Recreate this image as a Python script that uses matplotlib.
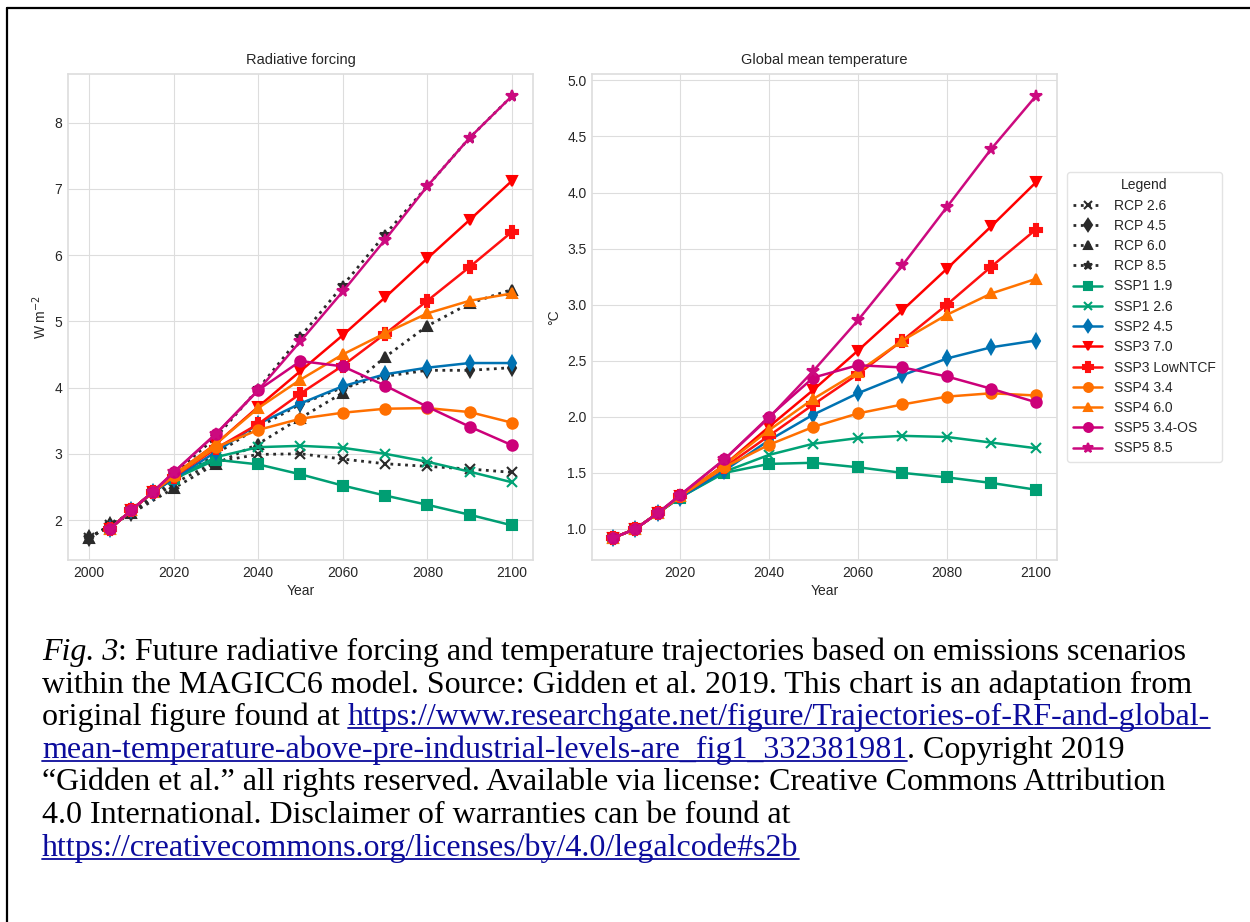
import matplotlib
matplotlib.use("Agg")
import matplotlib.pyplot as plt
from matplotlib.lines import Line2D

# ---- data ----
rcp_years = [2000, 2005, 2010, 2020, 2030, 2040, 2050, 2060, 2070, 2080, 2090, 2100]
ssp_years = [2005, 2010, 2015, 2020, 2030, 2040, 2050, 2060, 2070, 2080, 2090, 2100]

rcp_names = ["RCP 2.6", "RCP 4.5", "RCP 6.0", "RCP 8.5"]
rcp_markers = ["x", "d", "^", "*"]
rf_rcp26 = [1.73, 1.92, 2.10, 2.55, 2.88, 2.99, 3.00, 2.92, 2.85, 2.81, 2.77, 2.72]
rf_rcp45 = [1.73, 1.92, 2.10, 2.60, 3.00, 3.40, 3.75, 4.00, 4.17, 4.26, 4.26, 4.30]
rf_rcp60 = [1.73, 1.92, 2.10, 2.48, 2.85, 3.15, 3.54, 3.92, 4.46, 4.93, 5.27, 5.48]
rf_rcp85 = [1.73, 1.92, 2.12, 2.70, 3.25, 3.98, 4.77, 5.54, 6.31, 7.04, 7.77, 8.40]

ssp_names = ["SSP1 1.9", "SSP1 2.6", "SSP2 4.5", "SSP3 7.0", "SSP3 LowNTCF",
             "SSP4 3.4", "SSP4 6.0", "SSP5 3.4-OS", "SSP5 8.5"]
ssp_colors = ["#009e73", "#00a275", "#0072b2", "#ff0000", "#ff1010",
              "#ff6f00", "#ff7300", "#cc0079", "#cc0a7f"]
ssp_markers = ["s", "x", "d", "v", "P", "o", "^", "o", "*"]

rf_ssp119 = [1.87, 2.15, 2.42, 2.62, 2.91, 2.84, 2.69, 2.52, 2.37, 2.23, 2.08, 1.92]
rf_ssp126 = [1.87, 2.15, 2.42, 2.63, 2.95, 3.10, 3.12, 3.09, 3.00, 2.88, 2.73, 2.57]
rf_ssp245 = [1.87, 2.15, 2.42, 2.62, 3.03, 3.45, 3.76, 4.02, 4.20, 4.30, 4.37, 4.37]
rf_ssp370 = [1.87, 2.15, 2.42, 2.68, 3.15, 3.71, 4.25, 4.79, 5.36, 5.95, 6.53, 7.12]
rf_ssp3low = [1.87, 2.15, 2.42, 2.65, 3.08, 3.45, 3.91, 4.33, 4.81, 5.31, 5.82, 6.35]
rf_ssp434 = [1.87, 2.15, 2.42, 2.66, 3.10, 3.36, 3.53, 3.62, 3.68, 3.69, 3.63, 3.47]
rf_ssp460 = [1.87, 2.15, 2.42, 2.68, 3.15, 3.69, 4.12, 4.50, 4.82, 5.12, 5.31, 5.42]
rf_ssp534 = [1.87, 2.15, 2.42, 2.72, 3.30, 3.96, 4.40, 4.32, 4.03, 3.71, 3.41, 3.13]
rf_ssp585 = [1.87, 2.15, 2.42, 2.72, 3.30, 3.96, 4.70, 5.45, 6.23, 7.04, 7.77, 8.40]

t_ssp119 = [0.92, 1.00, 1.14, 1.28, 1.50, 1.58, 1.59, 1.55, 1.50, 1.46, 1.41, 1.35]
t_ssp126 = [0.92, 1.00, 1.14, 1.28, 1.51, 1.66, 1.76, 1.81, 1.83, 1.82, 1.77, 1.72]
t_ssp245 = [0.92, 1.00, 1.14, 1.28, 1.52, 1.79, 2.02, 2.21, 2.37, 2.52, 2.62, 2.68]
t_ssp370 = [0.92, 1.00, 1.14, 1.29, 1.57, 1.91, 2.24, 2.59, 2.95, 3.32, 3.70, 4.09]
t_ssp3low = [0.92, 1.00, 1.14, 1.29, 1.55, 1.83, 2.11, 2.38, 2.68, 3.00, 3.34, 3.67]
t_ssp434 = [0.92, 1.00, 1.14, 1.29, 1.55, 1.75, 1.91, 2.03, 2.11, 2.18, 2.21, 2.19]
t_ssp460 = [0.92, 1.00, 1.14, 1.29, 1.57, 1.88, 2.16, 2.40, 2.68, 2.91, 3.10, 3.23]
t_ssp534 = [0.92, 1.00, 1.14, 1.30, 1.62, 2.00, 2.35, 2.46, 2.44, 2.36, 2.25, 2.13]
t_ssp585 = [0.92, 1.00, 1.14, 1.30, 1.62, 1.99, 2.41, 2.86, 3.35, 3.87, 4.39, 4.86]

rf_rcp = [rf_rcp26, rf_rcp45, rf_rcp60, rf_rcp85]
rf_ssp = [rf_ssp119, rf_ssp126, rf_ssp245, rf_ssp370, rf_ssp3low,
          rf_ssp434, rf_ssp460, rf_ssp534, rf_ssp585]
t_ssp = [t_ssp119, t_ssp126, t_ssp245, t_ssp370, t_ssp3low,
         t_ssp434, t_ssp460, t_ssp534, t_ssp585]

caption_lines = [
    [("Fig. 3", "it"), (": Future radiative forcing and temperature trajectories based on emissions scenarios", "txt")],
    [("within the MAGICC6 model. Source: Gidden et al. 2019. This chart is an adaptation from", "txt")],
    [("original figure found at ", "txt"), ("https://www.researchgate.net/figure/Trajectories-of-RF-and-global-", "link")],
    [("mean-temperature-above-pre-industrial-levels-are_fig1_332381981", "link"), (". Copyright 2019", "txt")],
    [("\u201cGidden et al.\u201d all rights reserved. Available via license: Creative Commons Attribution", "txt")],
    [("4.0 International. Disclaimer of warranties can be found at", "txt")],
    [("https://creativecommons.org/licenses/by/4.0/legalcode#s2b", "link")],
]

# ---- style ----
plt.style.use("seaborn-v0_8-whitegrid")
plt.rcParams["font.family"] = ["Liberation Sans", "DejaVu Sans"]
plt.rcParams["axes.edgecolor"] = "#dddddd"
plt.rcParams["grid.color"] = "#dddddd"
plt.rcParams["text.color"] = "#262626"
plt.rcParams["xtick.color"] = "#262626"
plt.rcParams["ytick.color"] = "#262626"

W, H = 1250, 922
fig = plt.figure(figsize=(W / 100, H / 100), dpi=100)
ax1 = fig.add_axes([68 / W, 1 - 560 / H, 465 / W, 486 / H])
ax2 = fig.add_axes([592 / W, 1 - 560 / H, 465 / W, 486 / H])

rcp_col = "#2b2b2b"
for name, mk, vals in zip(rcp_names, rcp_markers, rf_rcp):
    ax1.plot(rcp_years, vals, ls=":", lw=2, color=rcp_col, marker=mk,
             ms=7.5, mew=1.5, label=name)

for name, col, mk, rf, t in zip(ssp_names, ssp_colors, ssp_markers, rf_ssp, t_ssp):
    ms = 8.5 if mk in ("*", "P") else 7.5
    ax1.plot(ssp_years, rf, lw=1.8, color=col, marker=mk, ms=ms, mew=1.5, label=name)
    ax2.plot(ssp_years, t, lw=1.8, color=col, marker=mk, ms=ms, mew=1.5, label=name)

for ax in (ax1, ax2):
    ax.tick_params(labelsize=10, pad=4)
    ax.set_xlabel("Year", fontsize=10, labelpad=3)
    for s in ax.spines.values():
        s.set_visible(True)
        s.set_color("#dddddd")
        s.set_linewidth(1.2)

ax1.set_title("Radiative forcing", fontsize=10.5, pad=7)
ax2.set_title("Global mean temperature", fontsize=10.5, pad=7)
ax1.set_ylabel("W m$^{-2}$", fontsize=10)
ax2.set_ylabel("\u00b0C", fontsize=10)
ax1.set_xticks([2000, 2020, 2040, 2060, 2080, 2100])
ax2.set_xticks([2020, 2040, 2060, 2080, 2100])

handles, labels = ax1.get_legend_handles_labels()
leg = fig.legend(handles, labels, title="Legend", loc="upper left",
                 bbox_to_anchor=(1067 / W, 1 - 172 / H), borderaxespad=0,
                 fontsize=10, title_fontsize=10, frameon=True, borderpad=0.45,
                 labelspacing=0.45, handlelength=2.1, markerscale=0.85)
leg.get_frame().set_edgecolor("#dddddd")
leg.get_frame().set_facecolor("white")

# ---- frame lines (top and left) ----
fig.add_artist(Line2D([7 / W, 1.0], [1 - 8 / H, 1 - 8 / H], color="black", lw=1.6))
fig.add_artist(Line2D([7 / W, 7 / W], [0.0, 1 - 8 / H], color="black", lw=1.6))

# ---- caption with underlined links ----
renderer = fig.canvas.get_renderer()
link_col = "#0c0c9c"
cap_kw = dict(family=["Liberation Serif", "DejaVu Serif"], fontsize=23, va="baseline", ha="left")


def text_width(s, style):
    t = fig.text(0, 0, s + "x", style="italic" if style == "it" else "normal", **cap_kw)
    w = t.get_window_extent(renderer).width
    t.remove()
    tx = fig.text(0, 0, "x", style="italic" if style == "it" else "normal", **cap_kw)
    wx = tx.get_window_extent(renderer).width
    tx.remove()
    return w - wx


x_start = 42
base0 = 660
line_gap = 32.6
for i, segs in enumerate(caption_lines):
    y_px = base0 + i * line_gap
    x_px = x_start
    for s, style in segs:
        col = link_col if style == "link" else "black"
        fig.text(x_px / W, 1 - y_px / H, s, color=col,
                 style="italic" if style == "it" else "normal", **cap_kw)
        w = text_width(s, style)
        if style == "link":
            fig.add_artist(Line2D([x_px / W, (x_px + w) / W],
                                  [1 - (y_px + 3) / H, 1 - (y_px + 3) / H],
                                  color=link_col, lw=1.3))
        x_px += w

fig.savefig("out.png", dpi=100)
